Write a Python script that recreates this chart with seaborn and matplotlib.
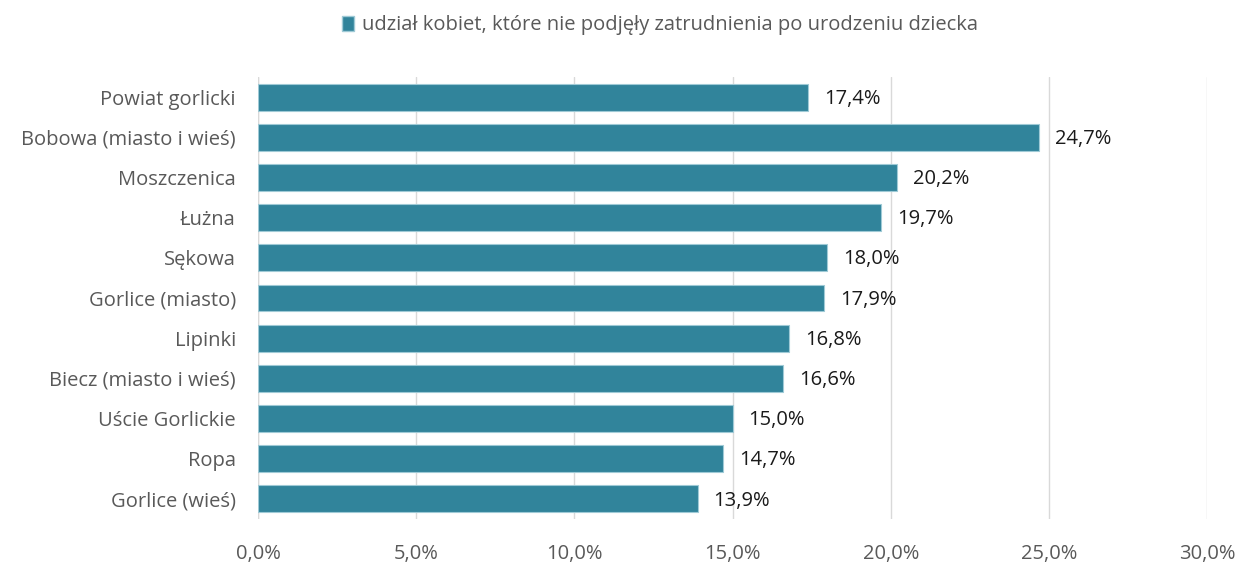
import pandas as pd
import seaborn as sns
import matplotlib.pyplot as plt
from matplotlib.patches import Patch
from matplotlib.ticker import FuncFormatter

# Data
gminy = ["Powiat gorlicki", "Bobowa (miasto i wieś)", "Moszczenica", "Łużna", "Sękowa",
         "Gorlice (miasto)", "Lipinki", "Biecz (miasto i wieś)", "Uście Gorlickie",
         "Ropa", "Gorlice (wieś)"]
udzial = [17.4, 24.7, 20.2, 19.7, 18.0, 17.9, 16.8, 16.6, 15.0, 14.7, 13.9]
legend_label = "udział kobiet, które nie podjęły zatrudnienia po urodzeniu dziecka"

df = pd.DataFrame({"gmina": gminy, "udzial": udzial})

sns.set_style("white")
plt.rcParams['font.family'] = ['Open Sans', 'DejaVu Sans']

bar_color = "#31849B"
fig = plt.figure(figsize=(12.38, 5.65), dpi=100)
ax = fig.add_axes([0.2084, 0.0814, 0.7666, 0.7823])

sns.barplot(data=df, x="udzial", y="gmina", color=bar_color, saturation=1, width=0.67,
            edgecolor="#9fcad6", linewidth=0.8, ax=ax, zorder=3)

ax.set_xlim(0, 30)
ax.set_xticks([0, 5, 10, 15, 20, 25, 30])
ax.xaxis.set_major_formatter(FuncFormatter(lambda v, p: f"{v:.1f}%".replace(".", ",")))
ax.grid(axis="x", color="#d9d9d9", linewidth=1, zorder=0)
for s in ax.spines.values():
    s.set_visible(False)
ax.axvline(0, color="#d9d9d9", linewidth=1, zorder=1)
ax.set_xlabel("")
ax.set_ylabel("")
ax.tick_params(axis="y", length=0, pad=16, labelsize=14.5, labelcolor="#595959")
ax.tick_params(axis="x", length=0, pad=18, labelsize=14.5, labelcolor="#595959")

for i, v in enumerate(udzial):
    ax.text(v + 0.5, i + 0.04, f"{v:.1f}%".replace(".", ","), va="center", ha="left",
            fontsize=14.5, color="#1a1a1a")

handle = Patch(facecolor=bar_color, edgecolor="#9fcad6")
fig.legend([handle], [legend_label], loc="center", bbox_to_anchor=(0.533, 0.955),
           frameon=False, fontsize=14.5, handlelength=0.6, handleheight=0.8,
           handletextpad=0.4, labelcolor="#595959")

fig.savefig("out.png", dpi=100)
